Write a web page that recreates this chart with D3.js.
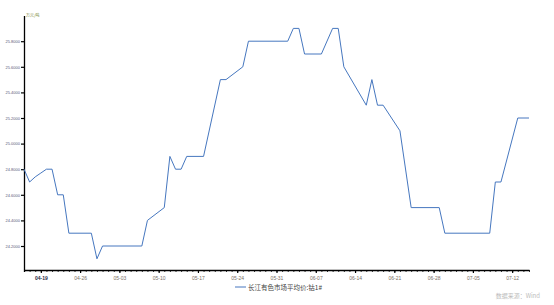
<!DOCTYPE html>
<html>
<head>
<meta charset="utf-8">
<script src="https://cdn.jsdelivr.net/npm/d3@7"></script>
<style>
  body { margin: 0; background: #fff; }
  svg { display: block; font-family: "Noto Sans CJK SC", "DejaVu Sans", sans-serif; }
</style>
</head>
<body>
<div id="chart-container"></div>
<script>
// 长江有色市场 钴1# 平均价 (万元/吨)
const dates = [
  '2024-04-16', '2024-04-17', '2024-04-18', '2024-04-19', '2024-04-20', '2024-04-21',
  '2024-04-22', '2024-04-23', '2024-04-24', '2024-04-28', '2024-04-29', '2024-04-30',
  '2024-05-07', '2024-05-08', '2024-05-11', '2024-05-12', '2024-05-13', '2024-05-14',
  '2024-05-15', '2024-05-18', '2024-05-21', '2024-05-22', '2024-05-25', '2024-05-26',
  '2024-06-02', '2024-06-03', '2024-06-04', '2024-06-05', '2024-06-08', '2024-06-10',
  '2024-06-11', '2024-06-12', '2024-06-14', '2024-06-16', '2024-06-17', '2024-06-18',
  '2024-06-19', '2024-06-22', '2024-06-24', '2024-06-29', '2024-06-30', '2024-07-08',
  '2024-07-09', '2024-07-10', '2024-07-13', '2024-07-15'
];
const prices = [
  24.80, 24.70, 24.74, 24.77, 24.80, 24.80,
  24.60, 24.60, 24.30, 24.30, 24.10, 24.20,
  24.20, 24.40, 24.50, 24.90, 24.80, 24.80,
  24.90, 24.90, 25.50, 25.50, 25.60, 25.80,
  25.80, 25.90, 25.90, 25.70, 25.70, 25.90,
  25.90, 25.60, 25.45, 25.30, 25.50, 25.30,
  25.30, 25.10, 24.50, 24.50, 24.30, 24.30,
  24.70, 24.70, 25.20, 25.20
];
const yTicks = [24.2, 24.4, 24.6, 24.8, 25.0, 25.2, 25.4, 25.6, 25.8];
const xDomain = ['2024-04-16', '2024-07-15'];
const unitLabel = '万元/吨';
const seriesName = '长江有色市场平均价:钴1#';
const sourceText = '数据来源：Wind';

const width = 554, height = 305;
const parse = d3.timeParse('%Y-%m-%d');
const data = dates.map((d, i) => ({ date: parse(d), value: prices[i] }));

const svg = d3.select('#chart-container')
  .append('svg')
  .attr('width', width)
  .attr('height', height);

const x = d3.scaleTime()
  .domain(xDomain.map(parse))
  .range([24, 529]);
const y = d3.scaleLinear()
  .domain([24, 26])
  .range([271.6, 15.6]);

// y axis
const yAxis = svg.append('g')
  .attr('transform', 'translate(24,0)')
  .call(d3.axisLeft(y).tickValues(yTicks).tickSize(3).tickSizeOuter(0)
    .tickFormat(d3.format('.4f')));
yAxis.select('.domain').attr('stroke', '#000').attr('stroke-width', 1.3);
yAxis.selectAll('.tick line').attr('stroke', '#000').attr('stroke-width', 1.2);
yAxis.selectAll('.tick text')
  .attr('x', -4)
  .attr('fill', '#5a5878')
  .style('font-size', '4px');

svg.append('text')
  .attr('x', 26)
  .attr('y', 17)
  .attr('fill', '#7c8a3a')
  .style('font-size', '4px')
  .text(unitLabel);

// x axis, daily minor ticks
const xAxisY = 270;
svg.append('g')
  .attr('transform', `translate(0,${xAxisY})`)
  .call(d3.axisBottom(x).ticks(d3.timeDay.every(1)).tickSize(2).tickSizeOuter(0).tickFormat(''))
  .call(g => g.select('.domain').remove())
  .selectAll('.tick line').attr('stroke', '#000').attr('stroke-width', 0.8);

const xAxis = svg.append('g')
  .attr('transform', `translate(0,${xAxisY})`)
  .call(d3.axisBottom(x).ticks(d3.timeFriday.every(1)).tickSize(3).tickSizeOuter(0)
    .tickFormat(d3.timeFormat('%m-%d')));
xAxis.select('.domain').attr('stroke', '#000').attr('stroke-width', 1.5);
xAxis.selectAll('.tick line').attr('stroke', '#000').attr('stroke-width', 1.2);
xAxis.selectAll('.tick text')
  .attr('y', 6)
  .attr('fill', (d, i) => i === 0 ? '#1f2a44' : '#7a6f66')
  .style('font-weight', (d, i) => i === 0 ? 'bold' : 'normal')
  .style('font-size', '5px');

// series line
const line = d3.line()
  .x(d => x(d.date))
  .y(d => y(d.value));

svg.append('path')
  .datum(data)
  .attr('fill', 'none')
  .attr('stroke', '#4677bf')
  .attr('stroke-width', 1)
  .attr('d', line);

// legend
svg.append('line')
  .attr('x1', 235).attr('x2', 246)
  .attr('y1', 287).attr('y2', 287)
  .attr('stroke', '#4677bf')
  .attr('stroke-width', 1);
svg.append('text')
  .attr('x', 248)
  .attr('y', 289.5)
  .attr('fill', '#444')
  .style('font-size', '6.5px')
  .text(seriesName);

svg.append('text')
  .attr('x', 540)
  .attr('y', 298)
  .attr('text-anchor', 'end')
  .attr('fill', '#bbb')
  .style('font-size', '6px')
  .text(sourceText);
</script>
</body>
</html>
